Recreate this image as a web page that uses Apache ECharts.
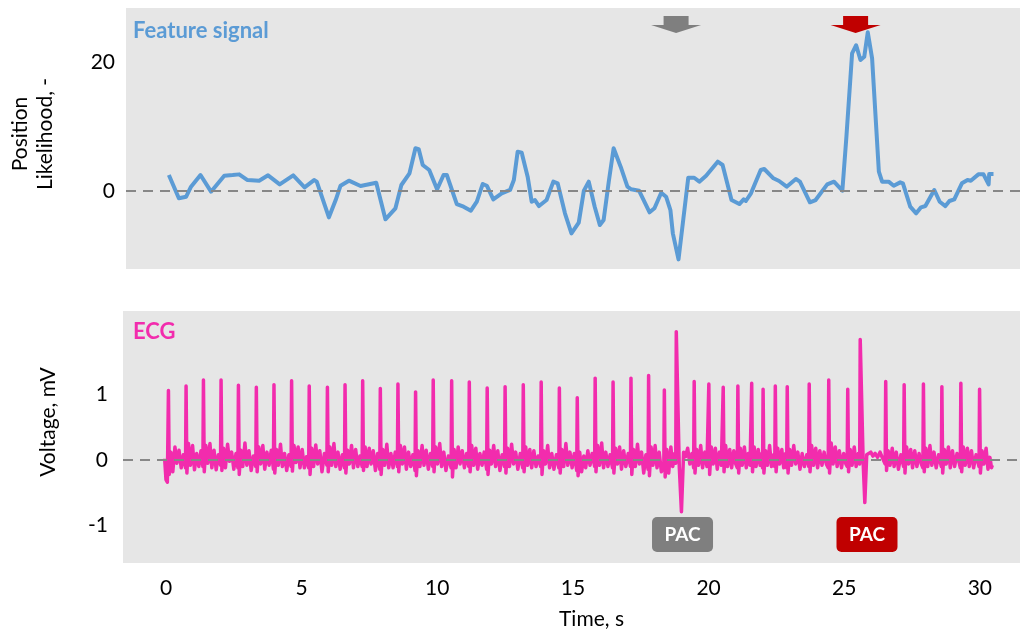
<!DOCTYPE html>
<html><head><meta charset="utf-8">
<script src="https://cdn.jsdelivr.net/npm/echarts@6/dist/echarts.min.js"></script>
<style>html,body{margin:0;padding:0;background:#fff}#c{width:1020px;height:634px}</style>
</head><body><div id="c"></div>
<script>
const featureTime = [0.00,0.37,0.64,0.82,1.17,1.56,2.05,2.36,2.60,2.91,3.34,3.67,4.10,4.60,5.02,5.37,5.47,5.92,6.17,6.35,6.66,7.09,7.67,8.01,8.38,8.60,8.90,9.12,9.24,9.39,9.63,9.92,10.16,10.28,10.65,10.90,11.17,11.39,11.61,11.76,12.00,12.31,12.62,12.76,12.90,13.05,13.27,13.42,13.54,13.69,13.97,14.22,14.38,14.65,14.89,15.16,15.35,15.53,15.75,15.94,16.08,16.27,16.45,16.71,16.96,17.10,17.39,17.78,17.96,18.21,18.39,18.55,18.64,18.85,19.21,19.43,19.62,19.87,20.30,20.48,20.81,21.10,21.26,21.34,21.53,21.89,22.02,22.36,22.57,22.85,23.19,23.34,23.71,23.92,24.35,24.60,24.91,25.06,25.27,25.42,25.58,25.72,25.85,26.01,26.26,26.38,26.62,26.81,27.05,27.15,27.42,27.64,27.82,27.98,28.31,28.51,28.72,28.87,29.05,29.33,29.54,29.66,29.94,30.13,30.32,30.34,30.50];
const featureValue = [2.48,-1.13,-0.88,0.67,2.48,-0.10,2.38,2.48,2.58,1.70,1.60,2.43,1.03,2.43,0.57,1.70,1.45,-4.08,-1.40,0.82,1.60,0.78,1.29,-4.39,-2.68,0.93,2.74,6.62,6.50,4.03,3.26,0.26,2.48,2.48,-2.02,-2.43,-3.05,-1.66,1.09,0.82,-1.29,-0.36,0.16,1.70,6.10,5.94,2.22,-1.66,-1.40,-2.33,-1.40,1.45,1.19,-3.46,-6.56,-4.91,0.05,1.45,-2.43,-5.27,-4.50,1.45,6.62,3.77,0.67,0.26,0.05,-3.30,-2.68,-0.26,-0.88,-2.95,-6.56,-10.60,2.06,2.06,1.45,2.38,4.55,4.03,-1.40,-2.02,-1.29,-1.55,-0.36,3.26,3.41,1.97,1.55,0.67,1.86,1.45,-1.75,-1.40,1.03,1.45,0.05,8.42,21.35,22.60,20.30,20.80,24.60,20.57,3.00,1.45,1.45,0.82,1.34,1.19,-2.43,-3.46,-2.53,-2.33,0.16,-1.66,-2.33,-1.55,-1.29,1.19,1.70,1.60,2.58,2.58,1.03,2.63,2.63];

const ecgTime = [
-0.05,0.00,0.05,0.09,0.12,0.18,0.25,0.33,0.40,0.48,0.56,0.64,
0.72,0.74,0.77,0.83,0.90,0.98,1.05,1.13,1.21,1.29,
1.36,1.38,1.41,1.47,1.54,1.62,1.69,1.77,1.85,1.93,
2.01,2.03,2.06,2.12,2.19,2.27,2.34,2.42,2.50,2.58,
2.65,2.67,2.70,2.76,2.83,2.91,2.98,3.06,3.14,3.22,
3.31,3.33,3.36,3.42,3.49,3.57,3.64,3.72,3.80,3.88,
3.96,3.98,4.01,4.07,4.14,4.22,4.29,4.37,4.45,4.53,
4.61,4.63,4.66,4.72,4.79,4.87,4.94,5.02,5.10,5.18,
5.26,5.28,5.31,5.37,5.44,5.52,5.59,5.67,5.75,5.84,
5.93,5.95,5.98,6.04,6.11,6.19,6.26,6.34,6.42,6.50,
6.58,6.60,6.63,6.69,6.76,6.84,6.91,6.99,7.07,7.15,
7.23,7.25,7.28,7.34,7.41,7.49,7.56,7.64,7.72,7.80,
7.88,7.90,7.93,7.99,8.06,8.14,8.21,8.29,8.37,8.45,
8.53,8.55,8.58,8.64,8.71,8.79,8.86,8.94,9.02,9.10,
9.18,9.20,9.23,9.29,9.36,9.44,9.51,9.59,9.67,9.75,
9.83,9.85,9.88,9.94,10.01,10.09,10.16,10.24,10.32,10.41,
10.51,10.53,10.56,10.62,10.69,10.77,10.84,10.92,11.00,11.08,
11.16,11.18,11.21,11.27,11.34,11.42,11.49,11.57,11.65,11.73,
11.82,11.84,11.87,11.93,12.00,12.08,12.15,12.23,12.31,12.39,
12.48,12.50,12.53,12.59,12.66,12.74,12.81,12.89,12.97,13.06,
13.15,13.17,13.20,13.26,13.33,13.41,13.48,13.56,13.64,13.72,
13.81,13.83,13.86,13.92,13.99,14.07,14.14,14.22,14.30,14.39,
14.48,14.50,14.53,14.59,14.66,14.74,14.81,14.89,14.97,15.05,
15.14,15.16,15.19,15.25,15.32,15.40,15.47,15.55,15.63,15.71,
15.80,15.82,15.85,15.91,15.98,16.06,16.13,16.21,16.29,16.37,
16.46,16.48,16.51,16.57,16.64,16.72,16.79,16.87,16.95,17.04,
17.12,17.14,17.17,17.23,17.30,17.38,17.45,17.53,17.61,17.69,
17.77,17.79,17.82,17.88,17.95,18.03,18.10,18.18,18.26,
18.35,18.37,18.40,18.46,18.53,18.61,18.68,18.75,
18.79,18.81,18.92,19.00,19.08,19.15,19.23,19.31,19.39,
19.45,19.47,19.50,19.56,19.63,19.71,19.78,19.86,19.94,
19.99,20.01,20.04,20.10,20.17,20.25,20.32,20.40,20.47,
20.52,20.54,20.57,20.63,20.70,20.78,20.85,20.93,21.00,
21.06,21.08,21.11,21.17,21.24,21.32,21.39,21.46,21.53,
21.57,21.59,21.62,21.68,21.75,21.83,21.90,21.96,
21.99,22.01,22.04,22.10,22.17,22.25,22.32,22.40,
22.44,22.46,22.49,22.55,22.62,22.70,22.77,22.84,
22.88,22.90,22.93,22.99,23.06,23.14,23.21,23.29,23.37,23.45,23.53,23.62,
23.69,23.71,23.74,23.80,23.87,23.95,24.02,24.10,24.18,24.26,24.34,
24.41,24.43,24.46,24.52,24.59,24.67,24.74,24.82,24.90,24.98,25.06,
25.11,25.13,25.16,25.22,25.29,25.37,25.44,25.52,
25.57,25.59,25.70,25.76,25.83,25.90,25.98,26.06,26.14,26.23,26.32,26.41,
26.51,26.53,26.56,26.62,26.69,26.77,26.84,26.92,27.00,27.09,
27.19,27.21,27.24,27.30,27.37,27.45,27.52,27.60,27.68,27.76,27.84,
27.90,27.92,27.95,28.01,28.08,28.16,28.23,28.31,28.39,28.48,
28.58,28.60,28.63,28.69,28.76,28.84,28.91,28.99,29.07,29.16,
29.28,29.30,29.33,29.39,29.46,29.54,29.61,29.69,29.77,29.86,
29.97,29.99,30.02,30.08,30.15,30.23,30.30,30.37,30.43,30.46
];
const ecgVoltage = [
0.02,-0.30,-0.34,1.06,-0.22,0.12,-0.18,0.20,-0.05,0.15,-0.12,0.08,
-0.12,1.13,-0.20,0.25,-0.08,0.22,-0.15,0.10,-0.10,0.14,
-0.10,1.22,-0.18,0.22,-0.05,0.25,-0.12,0.15,-0.15,0.08,
-0.08,1.22,-0.16,0.18,-0.12,0.24,-0.02,0.12,-0.14,0.10,
-0.12,1.14,-0.22,0.15,-0.10,0.26,-0.08,0.14,-0.16,0.06,
-0.10,1.11,-0.18,0.20,-0.06,0.22,-0.14,0.12,-0.08,0.15,
-0.14,1.15,-0.20,0.16,-0.08,0.24,-0.10,0.10,-0.16,0.08,
-0.10,1.21,-0.17,0.22,-0.04,0.20,-0.12,0.16,-0.12,0.05,
-0.12,1.13,-0.22,0.18,-0.10,0.23,-0.06,0.14,-0.18,0.10,
-0.08,1.11,-0.18,0.20,-0.08,0.25,-0.10,0.12,-0.14,0.08,
-0.12,1.15,-0.20,0.15,-0.06,0.22,-0.12,0.16,-0.10,0.06,
-0.10,1.21,-0.16,0.20,-0.10,0.18,-0.06,0.14,-0.16,0.10,
-0.14,1.09,-0.22,0.16,-0.08,0.24,-0.12,0.10,-0.12,0.12,
-0.10,1.16,-0.18,0.22,-0.06,0.20,-0.14,0.12,-0.10,0.08,
-0.16,1.04,-0.24,0.14,-0.10,0.22,-0.08,0.15,-0.14,0.10,
-0.10,1.22,-0.18,0.20,-0.06,0.25,-0.10,0.12,-0.16,0.06,
-0.12,1.21,-0.26,0.16,-0.12,0.20,-0.06,0.14,-0.12,0.10,
-0.10,1.19,-0.18,0.22,-0.08,0.18,-0.14,0.10,-0.08,0.12,
-0.14,1.10,-0.22,0.15,-0.06,0.22,-0.10,0.14,-0.16,0.08,
-0.10,1.12,-0.20,0.18,-0.10,0.24,-0.06,0.12,-0.14,0.10,
-0.12,1.15,-0.18,0.20,-0.08,0.16,-0.12,0.14,-0.10,0.06,
-0.10,1.19,-0.22,0.14,-0.06,0.22,-0.12,0.10,-0.14,0.08,
-0.12,1.10,-0.20,0.16,-0.10,0.25,-0.08,0.12,-0.12,0.10,
-0.16,0.95,-0.24,0.12,-0.18,0.06,-0.12,0.14,-0.08,0.10,
-0.10,1.25,-0.18,0.22,-0.08,0.26,-0.12,0.12,-0.10,0.08,
-0.12,1.19,-0.20,0.18,-0.06,0.20,-0.14,0.14,-0.10,0.10,
-0.10,1.25,-0.22,0.16,-0.10,0.24,-0.06,0.12,-0.20,0.08,
-0.14,1.29,-0.24,0.20,-0.08,0.22,-0.12,0.12,-0.18,
-0.10,1.07,-0.26,0.16,-0.20,0.20,-0.10,0.10,
-0.05,1.96,-0.10,-0.79,0.12,0.05,0.18,-0.06,0.10,
-0.12,1.20,-0.20,0.16,-0.08,0.22,-0.12,0.12,-0.10,
-0.12,1.16,-0.22,0.20,-0.06,0.18,-0.14,0.12,-0.08,
-0.10,1.11,-0.18,0.22,-0.10,0.16,-0.12,0.14,-0.06,
-0.12,1.13,-0.20,0.18,-0.08,0.20,-0.12,0.10,-0.08,
-0.10,1.17,-0.18,0.20,-0.10,0.16,-0.08,0.10,
-0.12,1.08,-0.20,0.14,-0.08,0.22,-0.10,0.08,
-0.10,1.13,-0.18,0.18,-0.06,0.16,-0.12,0.10,
-0.12,1.12,-0.20,0.16,-0.08,0.22,-0.06,0.12,-0.14,0.10,-0.10,0.08,
-0.10,1.16,-0.18,0.22,-0.08,0.18,-0.12,0.14,-0.08,0.12,-0.06,
-0.12,1.22,-0.20,0.26,-0.06,0.20,-0.10,0.14,-0.12,0.10,-0.06,
-0.10,1.08,-0.18,0.16,-0.08,0.20,-0.10,0.10,
-0.06,1.84,-0.05,-0.65,0.08,0.05,0.12,0.06,0.10,0.04,0.12,0.03,
-0.06,1.20,-0.16,0.14,-0.08,0.18,-0.10,0.12,-0.14,0.08,
-0.10,1.15,-0.20,0.20,-0.06,0.16,-0.12,0.14,-0.10,0.10,-0.06,
-0.12,1.16,-0.18,0.18,-0.10,0.22,-0.08,0.12,-0.12,0.08,
-0.10,1.12,-0.20,0.16,-0.06,0.20,-0.12,0.14,-0.10,0.10,
-0.12,1.17,-0.18,0.20,-0.08,0.18,-0.10,0.14,-0.12,0.08,
-0.10,1.08,-0.20,0.14,-0.06,0.18,-0.14,0.04,-0.12,-0.08
];

const timeTicks = [0, 5, 10, 15, 20, 25, 30];
const featureTicks = [0, 20];
const voltageTicks = [-1, 0, 1];
const markerArrowTimes = [18.76, 25.40];
const markerLabelTimes = [19.04, 25.84];
const markerColors = ['#7F7F7F', '#C00000'];
const markerLabel = 'PAC';

const FONT = 'Lato, "Open Sans", sans-serif';
const X_MIN = -1.585, X_MAX = 31.48;

const chart = echarts.init(document.getElementById('c'), null, {renderer: 'canvas'});

function zip(a, b) { return a.map((v, i) => [v, b[i]]); }

const labelStyle = {fontSize: 21, color: '#000', fontFamily: FONT};
const hidden = {show: false};

chart.setOption({
  animation: false,
  backgroundColor: '#fff',
  title: [
    {text: 'Feature signal', left: 133, top: 20, padding: 0, textStyle: {color: '#5B9BD5', fontWeight: 'bold', fontSize: 22, fontFamily: FONT}},
    {text: 'ECG', left: 133, top: 321, padding: 0, textStyle: {color: '#F22CAD', fontWeight: 'bold', fontSize: 22, fontFamily: FONT}}
  ],
  grid: [
    {left: 123, right: 0, top: 8, height: 261, show: true, backgroundColor: '#E6E6E6', borderWidth: 0},
    {left: 123, right: 0, top: 311, height: 252, show: true, backgroundColor: '#E6E6E6', borderWidth: 0}
  ],
  xAxis: [
    {gridIndex: 0, type: 'value', min: X_MIN, max: X_MAX, show: false},
    {gridIndex: 1, type: 'value', min: X_MIN, max: X_MAX,
     axisLine: hidden, axisTick: hidden, splitLine: hidden,
     axisLabel: Object.assign({customValues: timeTicks, margin: 15}, labelStyle),
     name: 'Time, s', nameLocation: 'middle', nameGap: 46,
     nameTextStyle: Object.assign({padding: [0, 0, 0, 40]}, labelStyle)}
  ],
  yAxis: [
    {gridIndex: 0, type: 'value', min: -12.09, max: 28.37,
     axisLine: hidden, axisTick: hidden, splitLine: hidden,
     axisLabel: Object.assign({customValues: featureTicks, margin: 11}, labelStyle),
     name: 'Position\nLikelihood, -', nameLocation: 'middle', nameGap: 68,
     nameTextStyle: Object.assign({lineHeight: 25, padding: [0, 0, 0, 9]}, labelStyle)},
    {gridIndex: 1, type: 'value', min: -1.573, max: 2.275,
     axisLine: hidden, axisTick: hidden, splitLine: hidden,
     axisLabel: Object.assign({customValues: voltageTicks, margin: 15}, labelStyle),
     name: 'Voltage, mV', nameLocation: 'middle', nameGap: 64,
     nameTextStyle: Object.assign({padding: [0, 0, 0, 30]}, labelStyle)}
  ],
  series: [
    {type: 'line', xAxisIndex: 0, yAxisIndex: 0, data: [], z: 1, silent: true,
     markLine: {silent: true, symbol: 'none', label: hidden, animation: false,
       lineStyle: {color: '#878787', type: [10, 7], width: 2}, data: [{yAxis: 0}]}},
    {type: 'line', xAxisIndex: 1, yAxisIndex: 1, data: [], z: 1, silent: true,
     markLine: {silent: true, symbol: 'none', label: hidden, animation: false,
       lineStyle: {color: '#878787', type: [10, 7], width: 2}, data: [{yAxis: 0}]}},
    {name: 'Feature signal', type: 'line', xAxisIndex: 0, yAxisIndex: 0, z: 3,
     data: zip(featureTime, featureValue), showSymbol: false, symbol: 'none',
     lineStyle: {color: '#5B9BD5', width: 4, join: 'round'}},
    {name: 'ECG', type: 'line', xAxisIndex: 1, yAxisIndex: 1, z: 3,
     data: zip(ecgTime, ecgVoltage), showSymbol: false, symbol: 'none',
     lineStyle: {color: '#F22CAD', width: 3.5, join: 'round'}}
  ]
});

const graphics = [];
markerArrowTimes.forEach((t, i) => {
  const cx = chart.convertToPixel({xAxisIndex: 0}, t);
  graphics.push({type: 'polygon', z: 10,
    shape: {points: [[cx - 12.5, 16], [cx + 12.5, 16], [cx + 12.5, 25], [cx + 25, 25], [cx, 33], [cx - 25, 25], [cx - 12.5, 25]]},
    style: {fill: markerColors[i]}});
});
markerLabelTimes.forEach((t, i) => {
  const cx = chart.convertToPixel({xAxisIndex: 1}, t);
  graphics.push({type: 'rect', z: 10,
    shape: {x: cx - 30.5, y: 517, width: 61, height: 35, r: 5},
    style: {fill: markerColors[i]}});
  graphics.push({type: 'text', z: 11, x: cx, y: 535,
    style: {text: markerLabel, fill: '#fff', font: 'bold 19px ' + FONT, textAlign: 'center', textVerticalAlign: 'middle'}});
});
chart.setOption({graphic: graphics});
</script>
</body></html>
